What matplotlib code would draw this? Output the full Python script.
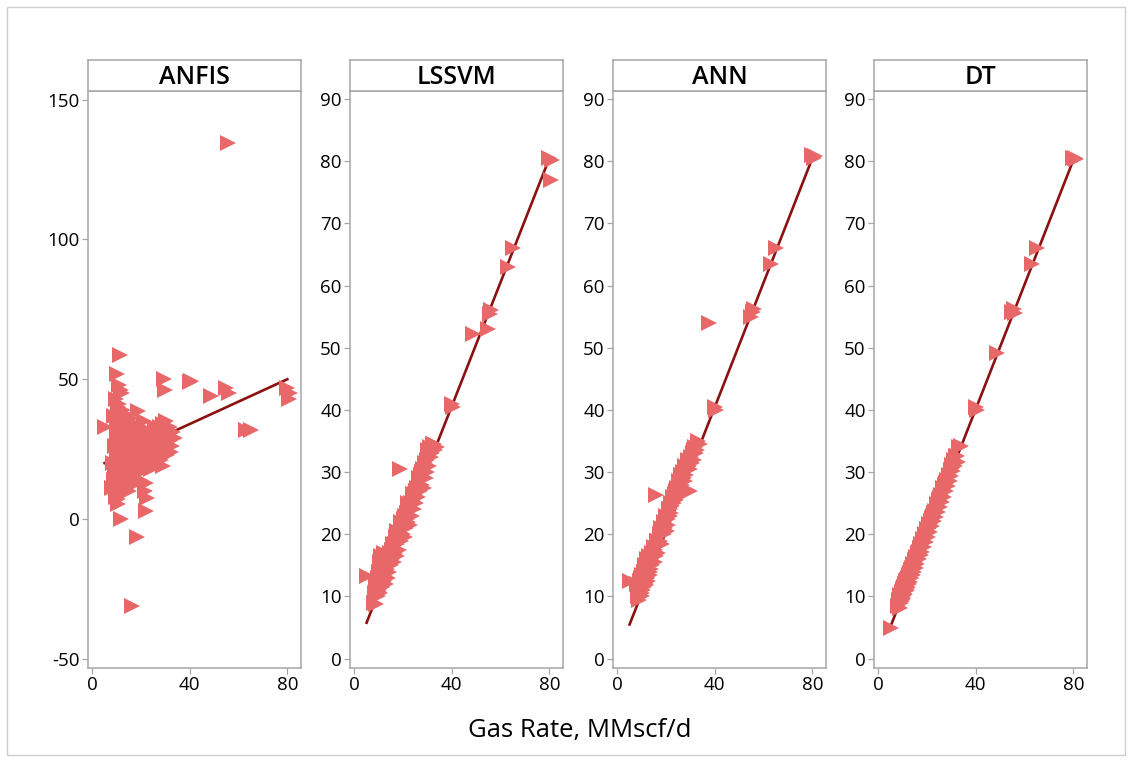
import numpy as np
import matplotlib.pyplot as plt
from matplotlib.patches import Rectangle

plt.rcParams['font.family'] = ['Open Sans', 'DejaVu Sans']
plt.rcParams['axes.unicode_minus'] = False

# actual gas rate (shared x for all models)
gas_rate = [
    5.0,
    8.0, 8.3, 8.7, 9.0, 9.2, 9.5, 9.8, 10.0, 10.1, 10.3, 10.5, 10.6, 10.8, 11.0, 11.1,
    11.3, 11.5, 11.6, 11.8, 12.0, 12.1, 12.3, 12.5, 12.6, 12.8, 13.0, 13.2, 13.5, 13.7, 14.0,
    14.3, 14.6, 15.0, 15.3, 15.6, 16.0, 16.3, 16.6, 17.0, 17.3, 17.6, 18.0, 18.4,
    18.8, 19.2, 19.6, 20.0, 20.4, 20.8, 21.2, 21.6, 22.0, 22.4, 22.8, 23.2,
    23.6, 24.0, 24.4, 24.8, 25.2, 25.6, 26.0, 26.4, 26.8, 27.2, 27.6, 28.0, 28.4,
    28.8, 29.2, 29.6, 30.0, 30.4, 30.8, 31.2, 31.6, 32.0, 32.5, 33.0, 34.0,
    40.0, 40.5, 48.5, 55.0, 55.5, 56.0, 63.0, 65.0, 80.0, 80.5, 81.0,
    9.4, 9.9, 10.2, 10.4, 10.7, 10.9, 11.2, 11.4, 11.7, 11.9, 12.2, 12.4, 12.7, 12.9,
    13.3, 13.6, 14.5, 15.2, 15.8, 16.8, 17.5, 18.2, 19.0, 19.8, 20.6, 21.4, 22.2,
    23.0, 24.2, 25.4, 26.6, 27.8, 29.0, 30.2, 31.4, 32.2,
]
# the ANN panel has its odd point further left
ann_odd_index = 83
ann_odd_rate = 37.5

# predicted gas rate per model
anfis = [
    33.0,
    11.0, 20.0, 37.0, 14.0, 26.0, 43.0, 8.0, 30.0, 52.0, 18.0, 40.0, 5.5, 23.0, 48.0, 35.0,
    12.0, 58.5, 28.0, 0.0, 45.0, 20.0, 33.0, 16.0, 38.0, 25.0, 10.0, 30.0, 22.0, 36.0, 18.0,
    27.0, 15.0, 32.0, 20.0, 24.0, 36.0, -31.0, 12.0, 29.0, 18.0, 33.0, 22.0, -6.5,
    38.8, 26.0, 14.0, 30.0, 19.0, 24.0, 35.0, 10.0, 3.0, 7.5, 28.0, 21.0,
    25.0, 18.0, 30.0, 22.0, 27.0, 33.0, 20.0, 28.0, 24.0, 31.0, 26.0, 21.0, 29.0,
    34.0, 50.0, 46.0, 27.0, 32.0, 23.0, 30.0, 28.0, 33.0, 26.0, 31.0, 29.0,
    49.0, 49.5, 44.0, 47.0, 134.5, 45.0, 32.0, 32.0, 47.0, 43.0, 45.0,
    16.0, 24.0, 34.0, 7.0, 28.0, 41.0, 13.0, 21.0, 46.0, 32.0, 9.0, 26.0, 39.0, 15.0,
    19.0, 29.0, 31.0, 10.0, 25.0, 34.0, 14.0, 27.0, 21.0, 33.0, 17.0, 26.0, 13.0,
    31.0, 22.0, 30.0, 25.0, 33.0, 19.0, 35.0, 28.0, 24.0,
]
lssvm = [
    13.3,
    9.0, 10.5, 12.0, 8.8, 11.5, 13.0, 10.0, 14.0, 11.0, 12.5, 15.5, 10.5, 13.5, 16.5, 12.0,
    14.5, 11.5, 15.0, 13.0, 17.0, 12.5, 14.0, 16.0, 13.5, 15.0, 12.0, 16.5, 14.5, 13.0, 15.5,
    14.0, 16.5, 15.0, 17.5, 16.0, 18.5, 15.5, 17.0, 19.5, 16.5, 18.5, 20.0, 17.5,
    30.5, 19.0, 21.5, 20.0, 22.5, 19.5, 21.0, 23.5, 22.0, 24.0, 21.5, 25.0,
    23.0, 25.5, 24.0, 26.5, 25.0, 27.5, 26.0, 28.5, 27.0, 29.5, 28.0, 30.5, 27.5,
    31.0, 29.0, 32.0, 30.0, 33.5, 31.0, 34.0, 32.5, 33.0, 34.5, 33.5, 34.0,
    41.0, 40.5, 52.2, 53.0, 55.5, 56.0, 63.0, 66.0, 80.5, 77.0, 80.2,
    11.5, 13.0, 10.8, 14.5, 12.0, 16.0, 13.0, 11.5, 15.5, 14.0, 12.5, 16.8, 14.5, 13.0,
    16.0, 14.0, 17.0, 15.5, 18.0, 18.5, 20.5, 19.0, 22.0, 21.0, 23.0, 22.5, 25.0,
    24.0, 26.5, 27.0, 29.0, 30.0, 31.5, 32.5, 33.0, 34.5,
]
ann = [
    12.5,
    12.0, 10.0, 11.5, 9.5, 12.5, 10.5, 13.0, 11.0, 10.0, 13.5, 12.0, 11.0, 14.0, 12.5, 11.5,
    13.0, 15.0, 12.0, 14.5, 13.0, 16.0, 13.5, 12.5, 15.0, 14.0, 16.5, 13.5, 15.5, 14.5, 17.0,
    15.0, 16.5, 18.0, 15.5, 17.5, 26.4, 19.0, 17.0, 18.5, 20.0, 19.0, 21.0, 18.5,
    20.5, 22.0, 21.0, 23.0, 20.5, 22.5, 24.0, 23.0, 25.0, 24.5, 26.0, 25.0,
    26.5, 25.5, 27.5, 26.0, 28.5, 27.0, 29.5, 28.0, 30.0, 29.0, 31.0, 29.5, 30.5,
    32.0, 31.0, 30.5, 26.9, 32.5, 31.5, 33.0, 32.0, 34.0, 33.5, 35.0, 34.5,
    40.5, 40.0, 54.0, 55.0, 55.8, 56.2, 63.5, 66.0, 81.0, 80.5, 80.8,
    11.0, 12.5, 10.5, 13.0, 11.5, 14.0, 12.0, 13.5, 11.8, 14.5, 13.0, 15.0, 13.5, 15.5,
    14.0, 16.0, 16.5, 17.0, 16.5, 19.0, 18.5, 20.5, 20.0, 22.5, 21.5, 24.0, 23.5,
    25.5, 27.0, 26.5, 29.0, 28.5, 31.0, 32.0, 33.5, 33.0,
]
dt = [
    5.0,
    8.5, 9.5, 8.2, 10.2, 9.0, 10.8, 9.3, 11.2, 10.0, 9.6, 11.5, 10.2, 12.0, 10.4, 11.8,
    12.5, 10.9, 12.2, 11.0, 13.0, 12.8, 11.6, 13.4, 12.0, 13.8, 12.4, 14.2, 13.0, 14.6, 13.4,
    15.2, 14.0, 15.8, 14.6, 16.4, 15.2, 17.0, 16.0, 17.8, 16.6, 18.4, 17.2, 19.2,
    18.0, 20.0, 18.8, 20.8, 19.6, 21.6, 20.4, 22.2, 21.4, 23.0, 22.2, 23.8,
    22.8, 24.8, 23.6, 25.6, 24.4, 26.4, 25.2, 27.4, 26.0, 28.0, 27.0, 28.8, 27.8,
    29.6, 28.6, 30.4, 29.4, 31.2, 30.2, 32.0, 31.0, 32.6, 31.6, 34.0, 34.2,
    40.5, 40.0, 49.2, 55.8, 56.2, 55.6, 63.4, 66.0, 80.5, 80.6, 80.4,
    9.8, 10.6, 9.8, 11.2, 10.4, 11.6, 11.0, 12.0, 11.4, 12.6, 12.0, 13.0, 12.4, 13.6,
    13.0, 14.2, 14.8, 15.6, 16.2, 17.2, 17.8, 18.6, 19.4, 20.2, 21.0, 21.8, 22.6,
    23.4, 24.6, 25.8, 27.0, 28.2, 29.4, 30.6, 31.8, 32.6,
]

models = ['ANFIS', 'LSSVM', 'ANN', 'DT']
predictions = [anfis, lssvm, ann, dt]
# fitted line: intercept, slope
fit_intercept = [18.0, 0.8, 0.5, 0.2]
fit_slope = [0.40, 0.996, 1.0, 1.0]
y_limits = [(-53.3, 153.1), (-1.5, 91.3), (-1.5, 91.3), (-1.5, 91.3)]
y_ticks = [[-50, 0, 50, 100, 150], list(range(0, 91, 10)),
           list(range(0, 91, 10)), list(range(0, 91, 10))]
x_ticks = [0, 40, 80]

W, H = 1131, 761
fig = plt.figure(figsize=(W / 100, H / 100), dpi=100)

# outer frame
fig.patches.append(Rectangle((7 / W, 6 / H), 1118 / W, 748 / H, transform=fig.transFigure,
                             fill=False, edgecolor='#cfcfcf', linewidth=1))

gray = '#a6a6a6'
lefts = [88, 350, 613, 874]
pw = 213
ax_bottom = (H - 668) / H
ax_height = 577 / H
strip_bottom = (H - 91) / H
strip_height = 31 / H

for i, name in enumerate(models):
    ax = fig.add_axes([lefts[i] / W, ax_bottom, pw / W, ax_height])
    x = np.array(gas_rate)
    if name == 'ANN':
        x[ann_odd_index] = ann_odd_rate
    y = np.array(predictions[i])
    xx = np.array([x.min(), 80.0])
    ax.plot(xx, fit_intercept[i] + fit_slope[i] * xx, color='#8b1010', lw=1.9, zorder=2)
    ax.plot(x, y, linestyle='none', marker='>', markersize=11, markeredgewidth=0,
            color='#e8686a', zorder=3)
    ax.set_xlim(-1.8, 85.6)
    ax.set_ylim(*y_limits[i])
    ax.set_xticks(x_ticks)
    ax.set_yticks(y_ticks[i])
    for sp in ax.spines.values():
        sp.set_color(gray)
        sp.set_linewidth(1.1)
    ax.tick_params(direction='out', length=4, width=0.9, color=gray,
                   labelsize=13.5, labelcolor='#000000', pad=2)
    ax.tick_params(axis='x', pad=1.5)

    st = fig.add_axes([lefts[i] / W, strip_bottom, pw / W, strip_height])
    st.set_xticks([])
    st.set_yticks([])
    for sp in st.spines.values():
        sp.set_color(gray)
        sp.set_linewidth(1.1)
    st.text(0.5, 0.45, name, ha='center', va='center', fontsize=18,
            fontweight='semibold', color='#000000', transform=st.transAxes)

fig.text(580 / W, (H - 731) / H, 'Gas Rate, MMscf/d', ha='center', va='center',
         fontsize=18.5, color='#000000')

fig.savefig('out.png', dpi=100)
